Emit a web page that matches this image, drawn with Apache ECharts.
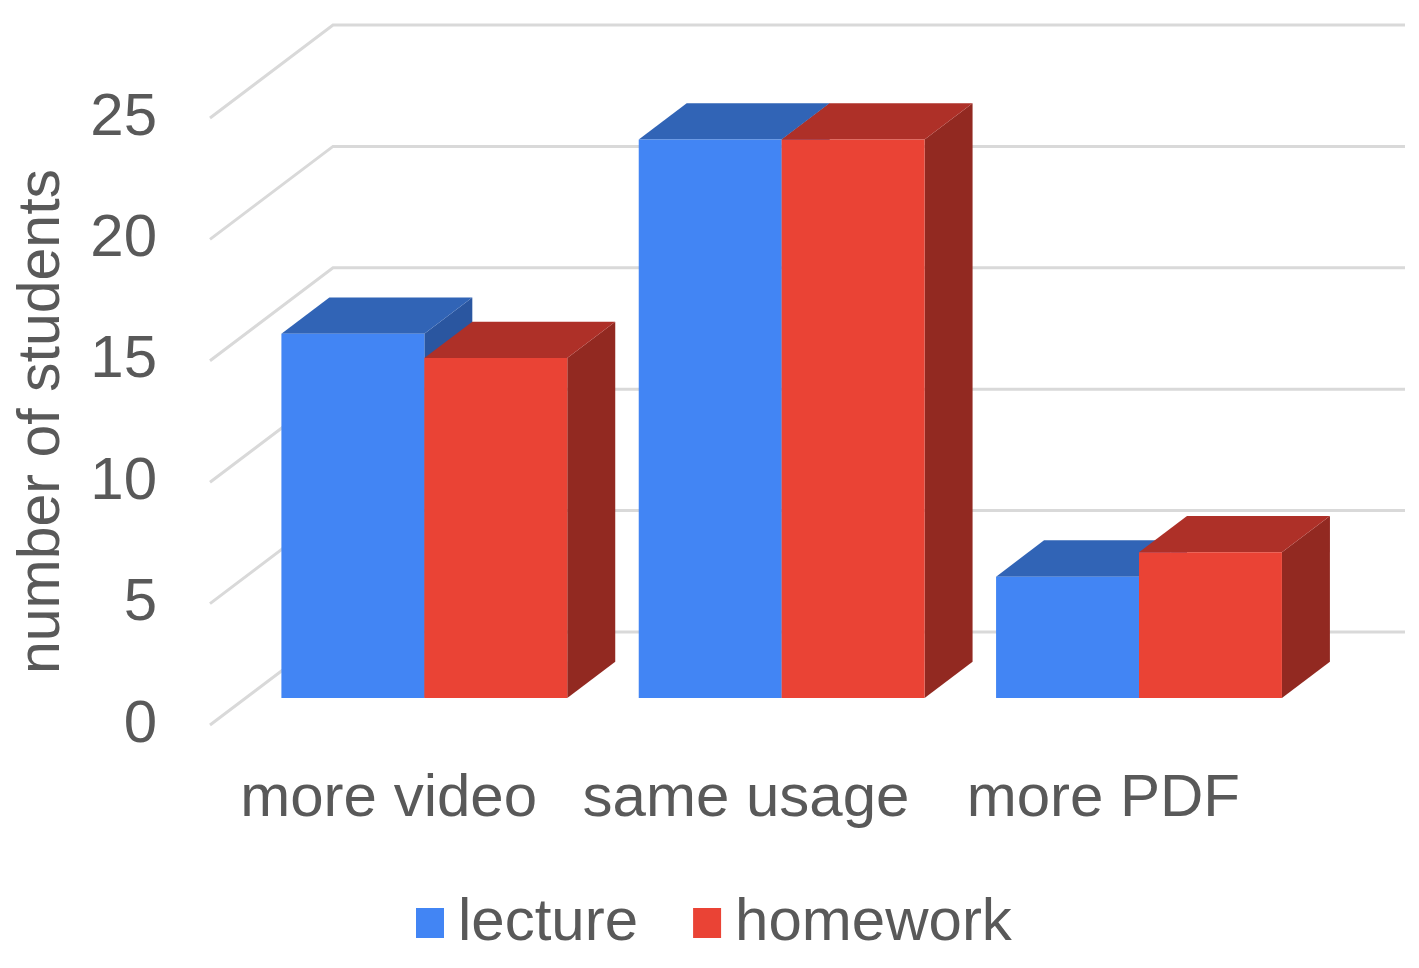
<!DOCTYPE html>
<html>
<head>
<meta charset="utf-8">
<title>number of students</title>
<script src="https://cdn.jsdelivr.net/npm/echarts@6.0.0/dist/echarts.min.js"></script>
<style>
html,body{margin:0;padding:0;background:#fff;}
#chart{width:1419px;height:968px;}
</style>
</head>
<body>
<div id="chart"></div>
<script>
var categories = ['more video', 'same usage', 'more PDF'];
var lecture = [15, 23, 5];
var homework = [14, 23, 6];
var yTicks = [0, 5, 10, 15, 20, 25];

// depth of the back wall in pixels, bars sit between barFront and barBack of it
var wall = [123, -93];
var barFront = 0.29, barBack = 0.68;
var barW = 0.4;
var textColor = '#595959';
var font = 'Liberation Sans, Arial, sans-serif';

var shades = {
    lecture: {front: '#4285f4', top: '#3164b6', side: '#2a56a0'},
    homework: {front: '#ea4335', top: '#ae3028', side: '#922921'}
};

// gridlines: diagonal on the left wall + line along the back wall
function wallRender(params, api){
    var cs = params.coordSys;
    var y = api.coord([0, api.value(1)])[1];
    var x0 = cs.x, x1 = cs.x + cs.width;
    return {
        type: 'polyline',
        silent: true,
        shape: {points: [[x0, y], [x0 + wall[0], y + wall[1]], [x1 + wall[0], y + wall[1]]]},
        style: {stroke: '#d9d9d9', lineWidth: 3, fill: null}
    };
}

// one box: side, top then front face
function barRender(pos, c){
    return function(params, api){
        var i = api.value(0), v = api.value(1);
        var top = api.coord([i, v]), base = api.coord([i, 0]);
        var cw = api.size([1, 0])[0];
        var fx = wall[0] * barFront, fy = wall[1] * barFront;
        var dx = wall[0] * (barBack - barFront), dy = wall[1] * (barBack - barFront);
        var xl = base[0] + (pos - 1) * cw * barW + fx;
        var xr = xl + cw * barW;
        var yt = top[1] + fy, yb = base[1] + fy;
        return {
            type: 'group',
            children: [
                {type: 'polygon', shape: {points: [[xr, yt], [xr + dx, yt + dy], [xr + dx, yb + dy], [xr, yb]]}, style: {fill: c.side}},
                {type: 'polygon', shape: {points: [[xl, yt], [xr, yt], [xr + dx, yt + dy], [xl + dx, yt + dy]]}, style: {fill: c.top}},
                {type: 'rect', shape: {x: xl, y: yt, width: xr - xl, height: yb - yt}, style: {fill: c.front}}
            ]
        };
    };
}

function pairs(arr){
    return arr.map(function(v, i){ return [i, v]; });
}

var chart = echarts.init(document.getElementById('chart'));
chart.setOption({
    animation: false,
    textStyle: {fontFamily: font},
    grid: {left: 210, right: 137, top: 118, bottom: 243},
    legend: {
        data: ['lecture', 'homework'],
        top: 888,
        left: 411,
        icon: 'rect',
        itemWidth: 28,
        itemHeight: 30,
        itemGap: 55,
        textStyle: {fontSize: 60, color: textColor, fontFamily: font, padding: [0, 0, 0, 9]}
    },
    xAxis: {
        type: 'category',
        data: categories,
        axisLine: {show: false},
        axisTick: {show: false},
        axisLabel: {fontSize: 60, color: textColor, margin: 44, interval: 0, hideOverlap: false, fontFamily: font}
    },
    yAxis: {
        type: 'value',
        min: 0,
        max: 25,
        interval: 5,
        name: 'number of students',
        nameLocation: 'middle',
        nameGap: 138,
        nameTextStyle: {fontSize: 59, color: textColor, fontFamily: font},
        axisLine: {show: false},
        axisTick: {show: false},
        splitLine: {show: false},
        axisLabel: {fontSize: 60, color: textColor, margin: 53, fontFamily: font}
    },
    series: [
        {
            type: 'custom',
            name: 'walls',
            z: 1,
            renderItem: wallRender,
            data: yTicks.map(function(v){ return [0, v]; })
        },
        {
            type: 'custom',
            name: 'lecture',
            z: 3,
            itemStyle: {color: shades.lecture.front},
            renderItem: barRender(0, shades.lecture),
            data: pairs(lecture)
        },
        {
            type: 'custom',
            name: 'homework',
            z: 4,
            itemStyle: {color: shades.homework.front},
            renderItem: barRender(1, shades.homework),
            data: pairs(homework)
        }
    ]
});
</script>
</body>
</html>
